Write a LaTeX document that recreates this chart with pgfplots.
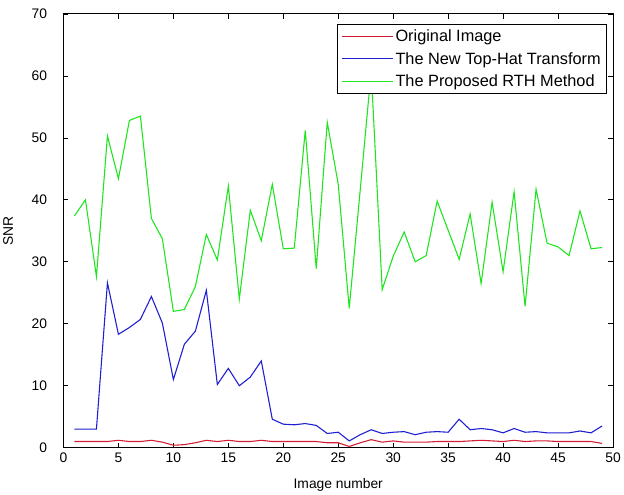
\documentclass[border=0pt]{standalone}
\usepackage{pgfplots}
\pgfplotsset{compat=1.18}
\usepackage{fontspec}
\setmainfont{Liberation Sans}

\definecolor{snrred}{RGB}{210,30,50}
\definecolor{snrblue}{RGB}{30,30,210}
\definecolor{snrgreen}{RGB}{30,230,30}

\begin{document}
\begin{tikzpicture}[x=1pt,y=1pt]
\begin{axis}[
  name=ax,
  scale only axis,
  width=556pt, height=439pt,
  xmin=0, xmax=50, ymin=0, ymax=70,
  xtick={0,5,...,50}, ytick={0,10,...,70},
  tick align=inside,
  major tick length=5pt,
  tick style={black, line width=0.6pt},
  axis line style={black, line width=0.8pt},
  /pgf/number format/assume math mode=true,
  ticklabel style={font=\fontsize{14}{15}\selectfont},
  yticklabel style={xshift=-13pt},
  xticklabel style={yshift=-2pt},
  xlabel={Image number},
  ylabel={SNR},
  label style={font=\fontsize{14}{15}\selectfont},
  xlabel style={yshift=-9pt},
  ylabel style={yshift=12pt},
  legend style={at={(rel axis cs:0.989,0.977)}, anchor=north east,
    font=\fontsize{16.5}{18}\selectfont, draw=black, line width=0.8pt,
    row sep=5pt, inner xsep=4pt, inner ysep=4pt, fill=white},
  legend cell align=left,
  legend image code/.code={\draw[#1, line width=1pt] (0pt,0pt) -- (52pt,0pt);},
  every axis plot/.append style={line width=1.1pt},
]
\addplot[snrred] coordinates {
(1,1.0) (2,1.0) (3,1.0) (4,1.0) (5,1.2) (6,1.0) (7,1.0) (8,1.2) (9,0.9) (10,0.4)
(11,0.5) (12,0.8) (13,1.2) (14,1.0) (15,1.2) (16,1.0) (17,1.0) (18,1.2) (19,1.0) (20,1.0)
(21,1.0) (22,1.0) (23,1.0) (24,0.8) (25,0.8) (26,0.2) (27,0.8) (28,1.3) (29,0.9) (30,1.1)
(31,0.9) (32,0.9) (33,0.9) (34,1.0) (35,1.0) (36,1.0) (37,1.1) (38,1.2) (39,1.1) (40,1.0)
(41,1.2) (42,1.0) (43,1.1) (44,1.1) (45,1.0) (46,1.0) (47,1.0) (48,1.0) (49,0.7)
};
\addlegendentry{Original Image}
\addplot[snrblue] coordinates {
(1,3.0) (2,3.0) (3,3.0) (4,26.6) (5,18.3) (6,19.4) (7,20.7) (8,24.4) (9,20.1) (10,11.0)
(11,16.7) (12,18.8) (13,25.4) (14,10.2) (15,12.8) (16,10.0) (17,11.4) (18,14.0) (19,4.6) (20,3.8)
(21,3.7) (22,3.9) (23,3.6) (24,2.3) (25,2.5) (26,1.1) (27,2.1) (28,2.9) (29,2.3) (30,2.5)
(31,2.6) (32,2.1) (33,2.5) (34,2.6) (35,2.5) (36,4.6) (37,2.9) (38,3.1) (39,2.9) (40,2.4)
(41,3.1) (42,2.5) (43,2.6) (44,2.4) (45,2.4) (46,2.4) (47,2.7) (48,2.4) (49,3.5)
};
\addlegendentry{The New Top-Hat Transform}
\addplot[snrgreen] coordinates {
(1,37.4) (2,40.0) (3,27.6) (4,50.3) (5,43.4) (6,52.8) (7,53.5) (8,37.0) (9,33.7) (10,22.0)
(11,22.3) (12,26.0) (13,34.4) (14,30.3) (15,42.2) (16,24.0) (17,38.3) (18,33.4) (19,42.5) (20,32.1)
(21,32.2) (22,51.2) (23,28.9) (24,52.5) (25,42.5) (26,22.5) (27,41.6) (28,60.8) (29,25.5) (30,30.9)
(31,34.8) (32,30.0) (33,31.0) (34,39.8) (35,35.1) (36,30.4) (37,37.7) (38,26.5) (39,39.6) (40,28.4)
(41,41.3) (42,22.8) (43,41.7) (44,33.0) (45,32.4) (46,31.0) (47,38.2) (48,32.1) (49,32.3)
};
\addlegendentry{The Proposed RTH Method}
\end{axis}
\path[use as bounding box] ([shift={(-62pt,-47pt)}]ax.south west) rectangle ([shift={(6pt,14pt)}]ax.north east);
\end{tikzpicture}
\end{document}
